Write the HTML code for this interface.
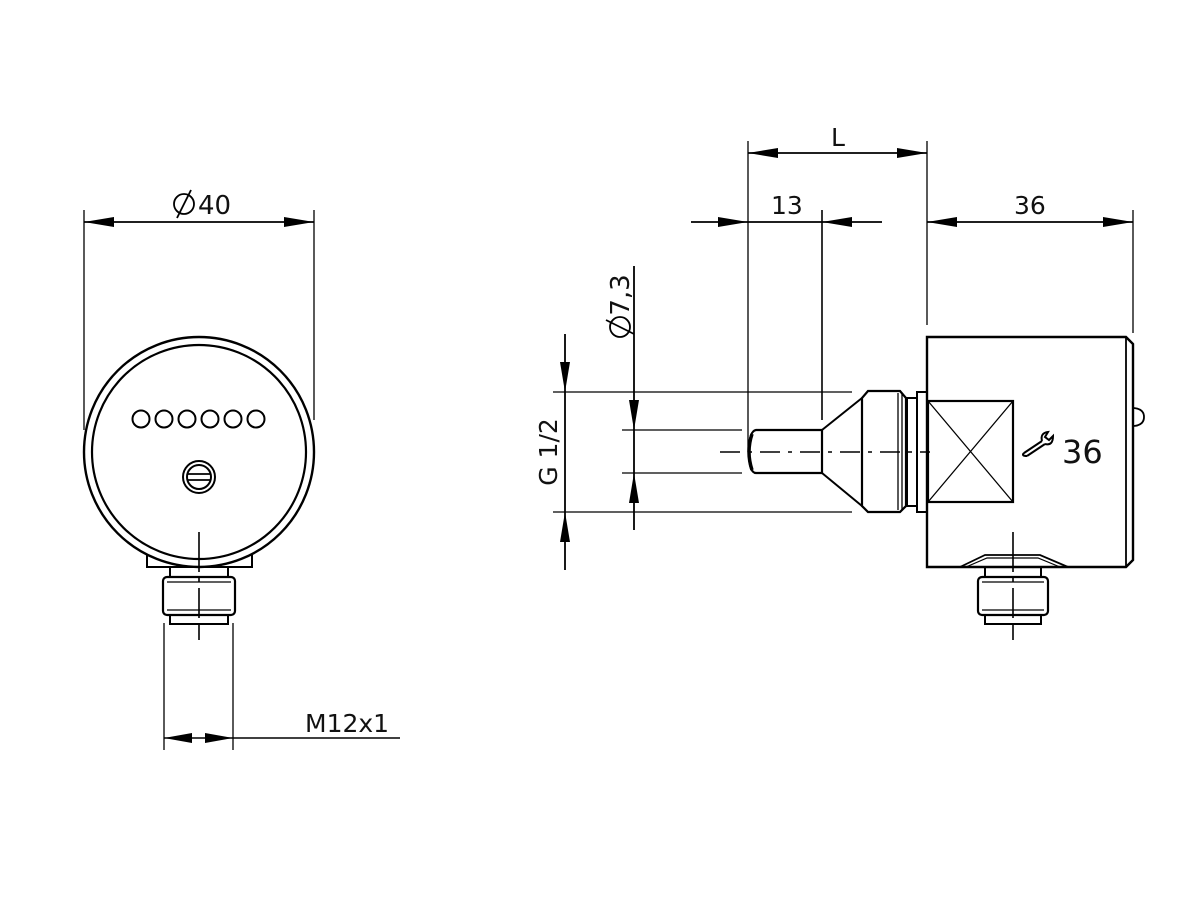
<!DOCTYPE html>
<html><head><meta charset="utf-8"><style>
html,body{margin:0;padding:0;background:#fff;}
svg{display:block}
text{font-family:"DejaVu Sans","Liberation Sans",sans-serif;fill:#111}
</style></head><body>
<svg width="1200" height="900" viewBox="0 0 1200 900" xmlns="http://www.w3.org/2000/svg">
<g stroke="#000" fill="none" stroke-width="1.3">
<!-- ===== LEFT VIEW ===== -->
<line x1="84" y1="210" x2="84" y2="430"/>
<line x1="314" y1="210" x2="314" y2="420"/>
<line x1="84" y1="222" x2="314" y2="222" stroke-width="1.8"/>
<rect x="147" y="553" width="105" height="14" stroke-width="2"/>
<circle cx="199" cy="452" r="115" fill="#fff" stroke-width="2.4"/>
<circle cx="199" cy="452" r="107" stroke-width="2.2"/>
<g stroke-width="2">
<circle cx="141" cy="419" r="8.5"/><circle cx="164" cy="419" r="8.5"/><circle cx="187" cy="419" r="8.5"/>
<circle cx="210" cy="419" r="8.5"/><circle cx="233" cy="419" r="8.5"/><circle cx="256" cy="419" r="8.5"/>
</g>
<circle cx="199" cy="477" r="16" stroke-width="2"/>
<circle cx="199" cy="477" r="12" stroke-width="2"/>
<line x1="188" y1="474" x2="210" y2="474" stroke-width="1.8"/>
<line x1="188" y1="480" x2="210" y2="480" stroke-width="1.8"/>
<rect x="170" y="567" width="58" height="10" stroke-width="2"/>
<rect x="163" y="577" width="72" height="38" rx="4" stroke-width="2.2"/>
<line x1="167" y1="582" x2="231" y2="582"/>
<line x1="167" y1="610" x2="231" y2="610"/>
<rect x="170" y="615" width="58" height="9" stroke-width="2"/>
<line x1="199" y1="532" x2="199" y2="640" stroke-width="1.6" stroke-dasharray="40,6,4,6,30,6"/>
<line x1="164" y1="623" x2="164" y2="750"/>
<line x1="233" y1="623" x2="233" y2="750"/>
<line x1="164" y1="738" x2="400" y2="738" stroke-width="1.6"/>

<!-- ===== RIGHT VIEW ===== -->
<line x1="748" y1="141" x2="748" y2="452"/>
<line x1="927" y1="141" x2="927" y2="325"/>
<line x1="1133" y1="210" x2="1133" y2="333"/>
<line x1="822" y1="210" x2="822" y2="420" stroke-width="1.6"/>
<line x1="748" y1="153" x2="927" y2="153" stroke-width="1.8"/>
<line x1="691" y1="222" x2="882" y2="222" stroke-width="1.8"/>
<line x1="927" y1="222" x2="1133" y2="222" stroke-width="1.8"/>
<line x1="553" y1="392" x2="852" y2="392"/>
<line x1="553" y1="512" x2="852" y2="512"/>
<line x1="622" y1="430" x2="742" y2="430"/>
<line x1="622" y1="473" x2="742" y2="473"/>
<line x1="565" y1="334" x2="565" y2="570" stroke-width="1.8"/>
<line x1="634" y1="266" x2="634" y2="530" stroke-width="1.8"/>
<path d="M927 337 H1126 L1133 344 V560 L1126 567 H927 Z" stroke-width="2.4"/>
<line x1="1126" y1="337" x2="1126" y2="567" stroke-width="1.8"/>
<path d="M1134 408 Q1144 409 1144 417 Q1144 425 1134 426" stroke-width="1.8"/>
<rect x="928" y="401" width="85" height="101" stroke-width="2.2"/>
<line x1="928" y1="401" x2="1013" y2="502"/><line x1="1013" y1="401" x2="928" y2="502"/>
<path d="M960 567 L985 555 H1040 L1068 567" stroke-width="1.8"/>
<path d="M966 567 L987 558 H1038 L1060 567" stroke-width="1.2"/>
<rect x="917" y="392" width="10" height="120" stroke-width="2"/>
<rect x="907" y="398" width="10" height="108" stroke-width="2"/>
<path d="M868 391 H900 L906 398 V506 L900 512 H868 L862 506 V398 Z" stroke-width="2.2"/>
<line x1="898" y1="393" x2="898" y2="510"/><line x1="902" y1="393" x2="902" y2="510"/>
<path d="M862 398 L822 430 M862 506 L822 473" stroke-width="2"/>
<line x1="862" y1="398" x2="862" y2="506" stroke-width="1.6"/>
<path d="M822 430 H756 Q749 431 749 452 Q749 473 756 473 H822 Z" stroke-width="2.2"/>
<path d="M752 434 Q746 452 752 470" stroke-width="3.5"/>
<line x1="720" y1="452" x2="930" y2="452" stroke-width="1.6" stroke-dasharray="20,8,4,8"/>
<rect x="985" y="567" width="56" height="10" stroke-width="2"/>
<rect x="978" y="577" width="70" height="38" rx="4" stroke-width="2.2"/>
<line x1="982" y1="582" x2="1044" y2="582"/><line x1="982" y1="610" x2="1044" y2="610"/>
<rect x="985" y="615" width="56" height="9" stroke-width="2"/>
<line x1="1013" y1="532" x2="1013" y2="640" stroke-width="1.6" stroke-dasharray="40,6,4,6,30,6"/>
<!-- wrench -->
<path d="M1024 453 L1042 441 M1027 456 L1045 444" stroke-width="2"/>
<path d="M1024 453 Q1021 456 1027 456" stroke-width="2"/>
<path d="M1042 441 Q1040 433 1048 432 L1045 437 L1049 440 L1053 436 Q1053 446 1045 444" stroke-width="2"/>
<!-- diameter symbols -->
<circle cx="184" cy="204" r="10" stroke-width="1.8"/>
<line x1="177" y1="218" x2="191" y2="190" stroke-width="1.8"/>
<circle cx="620" cy="327" r="10" stroke-width="1.8"/>
<line x1="606" y1="320" x2="634" y2="334" stroke-width="1.8"/>
</g>
<g fill="#000" stroke="none">
<polygon points="84,222 114,217 114,227"/>
<polygon points="314,222 284,217 284,227"/>
<polygon points="164,738 192,733 192,743"/>
<polygon points="233,738 205,733 205,743"/>
<polygon points="748,153 778,148 778,158"/>
<polygon points="927,153 897,148 897,158"/>
<polygon points="748,222 718,217 718,227"/>
<polygon points="822,222 852,217 852,227"/>
<polygon points="927,222 957,217 957,227"/>
<polygon points="1133,222 1103,217 1103,227"/>
<polygon points="565,392 560,362 570,362"/>
<polygon points="565,512 560,542 570,542"/>
<polygon points="634,430 629,400 639,400"/>
<polygon points="634,473 629,503 639,503"/>
</g>
<text x="198" y="214" font-size="26">40</text>
<text x="305" y="732" font-size="25">M12x1</text>
<text x="831" y="146" font-size="25">L</text>
<text x="771" y="214" font-size="25">13</text>
<text x="1014" y="214" font-size="25">36</text>
<text x="1062" y="463" font-size="32">36</text>
<text transform="translate(557,452) rotate(-90)" text-anchor="middle" font-size="25">G 1/2</text>
<text transform="translate(629,295) rotate(-90)" text-anchor="middle" font-size="26">7,3</text>
</svg>
</body></html>
